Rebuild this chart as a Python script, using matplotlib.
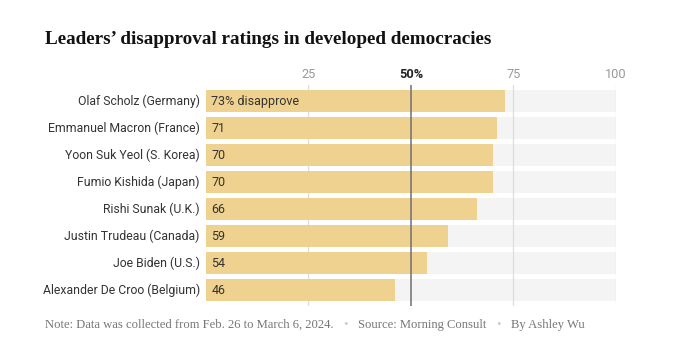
import matplotlib.pyplot as plt
import numpy as np

# Data
leaders = ['Olaf Scholz (Germany)', 'Emmanuel Macron (France)', 'Yoon Suk Yeol (S. Korea)',
           'Fumio Kishida (Japan)', 'Rishi Sunak (U.K.)', 'Justin Trudeau (Canada)',
           'Joe Biden (U.S.)', 'Alexander De Croo (Belgium)']
disapproval = [73, 71, 70, 70, 66, 59, 54, 46]
ticks = [25, 50, 75, 100]
tick_labels = ['25', '50%', '75', '100']

bar_color = '#efd28f'
bg_color = '#f4f4f4'
sans = ['Roboto', 'DejaVu Sans']
serif = ['Liberation Serif', 'DejaVu Serif']

fig = plt.figure(figsize=(6.8, 3.5), dpi=100)
ax = fig.add_axes([206 / 680, 1 - 306 / 350, 410 / 680, 221 / 350])

y = np.arange(len(leaders))
ax.barh(y, [100] * len(leaders), height=0.8, color=bg_color, zorder=1)
ax.barh(y, disapproval, height=0.8, color=bar_color, zorder=2)

# gridlines
for t in ticks:
    if t == 50:
        ax.axvline(t, color='#707070', lw=1.1, zorder=3)
    else:
        ax.axvline(t, color='#dddddd', lw=0.9, zorder=1.5)

ax.set_xlim(0, 100)
ax.set_ylim(len(leaders) - 0.41, -0.59)
ax.axis('off')

# tick labels
for t, lab in zip(ticks, tick_labels):
    bold = t == 50
    ax.text(t, -0.75, lab, ha='center', va='bottom', fontsize=9.2,
            color='#222222' if bold else '#999999',
            fontweight='bold' if bold else 'normal', family=sans)

# leader names and values
for i, (name, v) in enumerate(zip(leaders, disapproval)):
    ax.text(-1.5, i, name, ha='right', va='center', fontsize=8.8, color='#333333', family=sans)
    lab = f'{v}% disapprove' if i == 0 else str(v)
    ax.text(1.3, i + 0.03, lab, ha='left', va='center', fontsize=9, color='#333333', family=sans)

fig.text(45 / 680, 1 - 40 / 350, 'Leaders\u2019 disapproval ratings in developed democracies',
         ha='left', va='center', fontsize=13.8, fontweight='bold', color='#121212', family=serif)

# footnote pieces
parts = ['Note: Data was collected from Feb. 26 to March 6, 2024.', '\u2022',
         'Source: Morning Consult', '\u2022', 'By Ashley Wu']
colors = ['#777777', '#cccccc', '#777777', '#cccccc', '#777777']
fig.canvas.draw()
renderer = fig.canvas.get_renderer()
x = 45 / 680
for p, c in zip(parts, colors):
    t = fig.text(x, 1 - 325 / 350, p, ha='left', va='center', fontsize=9.1, color=c, family=serif)
    bb = t.get_window_extent(renderer)
    x += bb.width / 680 + 10 / 680

fig.savefig('out.png', dpi=100)
